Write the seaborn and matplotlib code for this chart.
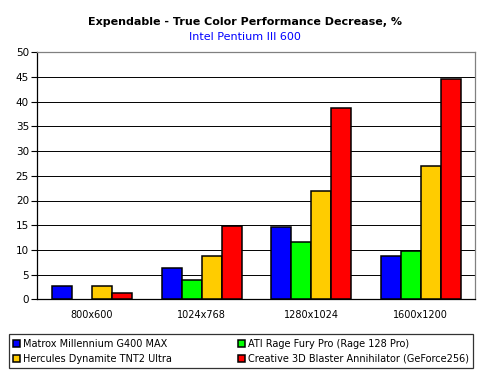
import numpy as np
import pandas as pd
import matplotlib
matplotlib.use("Agg")
import matplotlib.pyplot as plt
import seaborn as sns

categories = ["800x600", "1024x768", "1280x1024", "1600x1200"]
series_names = [
    "Matrox Millennium G400 MAX",
    "ATI Rage Fury Pro (Rage 128 Pro)",
    "Hercules Dynamite TNT2 Ultra",
    "Creative 3D Blaster Annihilator (GeForce256)",
]
matrox = [2.6, 6.3, 14.6, 8.7]
ati = [np.nan, 3.9, 11.5, 9.8]
hercules = [2.6, 8.7, 21.9, 26.9]
creative = [1.2, 14.8, 38.7, 44.5]
colors = ["#0000FF", "#00FF00", "#FFCC00", "#FF0000"]
yticks = [0, 5, 10, 15, 20, 25, 30, 35, 40, 45, 50]

rows = []
for name, vals in zip(series_names, [matrox, ati, hercules, creative]):
    for c, v in zip(categories, vals):
        rows.append({"res": c, "card": name, "val": v})
df = pd.DataFrame(rows)

sns.set_style("white")
plt.rcParams["font.family"] = ["DejaVu Sans"]
plt.rcParams["text.color"] = "black"
plt.rcParams["xtick.color"] = "black"
plt.rcParams["ytick.color"] = "black"
plt.rcParams["axes.labelcolor"] = "black"

fig = plt.figure(figsize=(4.9, 3.77), dpi=100)
ax = fig.add_axes([37.3 / 490, 1 - 299.3 / 377, (475.3 - 37.3) / 490, (299.3 - 52.3) / 377])

sns.barplot(data=df, x="res", y="val", hue="card", order=categories,
            hue_order=series_names, palette=colors, errorbar=None,
            width=0.73, edgecolor="black", linewidth=1.1, saturation=1,
            ax=ax, zorder=3)

ax.set_ylim(0, 50)
ax.set_xlim(-0.5, 3.5)
ax.set_yticks(yticks)
ax.set_yticklabels([str(t) for t in yticks], fontsize=7.5, color="black")
ax.yaxis.grid(True, color="black", linewidth=0.7)
ax.set_axisbelow(True)
ax.set_xlabel("")
ax.set_ylabel("")
ax.set_xticks(range(len(categories)))
ax.set_xticklabels(categories, fontsize=7.0, color="black")
ax.set_xticks(np.arange(-0.5, 4.0, 1.0), minor=True)
ax.tick_params(axis="x", which="major", length=0, pad=8)
ax.tick_params(axis="x", which="minor", length=4, width=0.8, color="black", direction="out")
ax.tick_params(axis="y", which="major", length=4, width=0.8, color="black", direction="out", pad=2, left=True)
for s in ["left", "bottom"]:
    ax.spines[s].set_color("black")
    ax.spines[s].set_linewidth(0.9)
for s in ["top", "right"]:
    ax.spines[s].set_color("#808080")
    ax.spines[s].set_linewidth(0.9)
    ax.spines[s].set_visible(True)

fig.text(0.5, 1 - 22 / 377, "Expendable - True Color Performance Decrease, %",
         ha="center", va="center", fontsize=8.0, fontweight="bold", color="black")
fig.text(0.5, 1 - 37 / 377, "Intel Pentium III 600", ha="center", va="center",
         fontsize=8, color="#0000FF")

handles, labels = ax.get_legend_handles_labels()
ax.get_legend().remove()
order = [0, 2, 1, 3]
leg = fig.legend([handles[i] for i in order], [labels[i] for i in order],
                 loc="lower left", bbox_to_anchor=(9 / 490, 1 - 368 / 377, 464 / 490, 35 / 377),
                 mode="expand", ncol=2, fontsize=7.0, frameon=True, fancybox=False,
                 edgecolor="black", handlelength=0.7, handleheight=0.7, handletextpad=0.3,
                 borderpad=0.45, labelspacing=0.5, borderaxespad=0, columnspacing=1.0)
leg.get_frame().set_linewidth(0.9)
for t in leg.get_texts():
    t.set_color("black")

fig.savefig("out.png", dpi=100, facecolor="white")
